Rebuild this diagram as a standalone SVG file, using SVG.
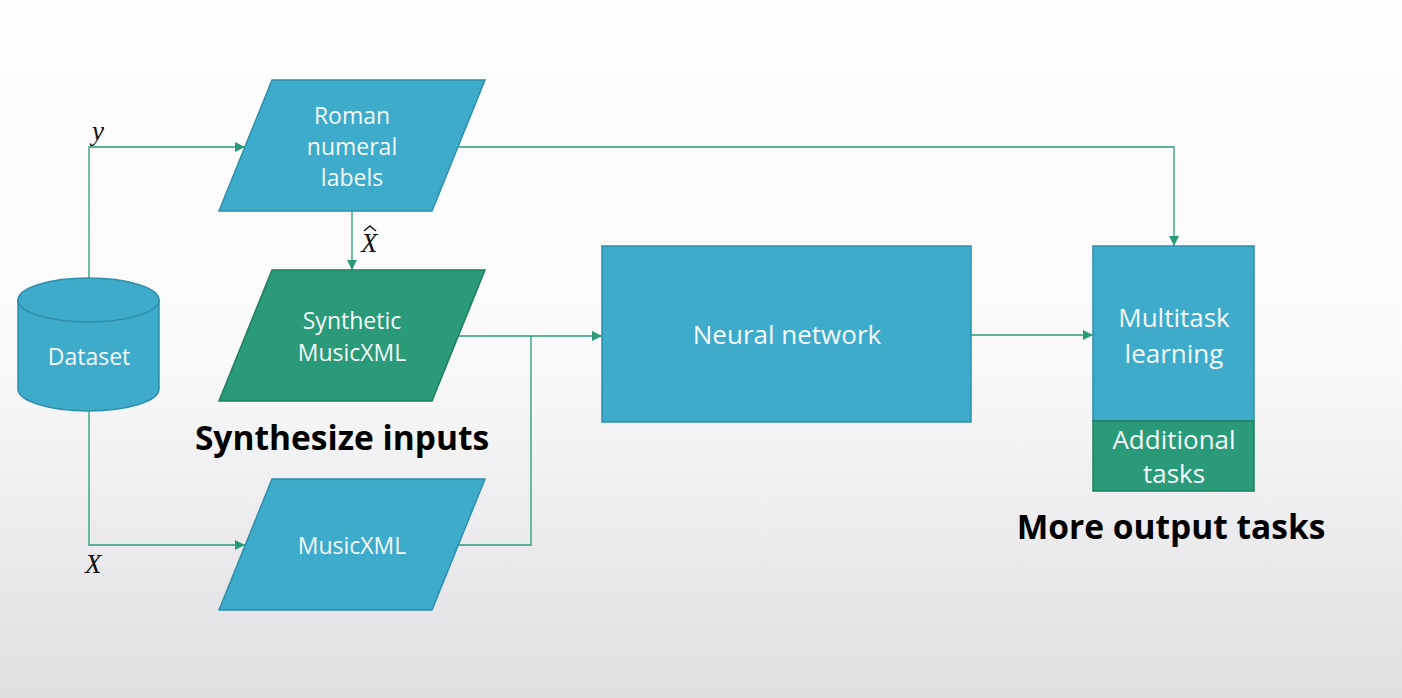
<svg xmlns="http://www.w3.org/2000/svg" width="1402" height="698" viewBox="0 0 1402 698">
<defs>
<linearGradient id="bg" x1="0" y1="0" x2="0" y2="1">
<stop offset="0" stop-color="#fdfdfe"/>
<stop offset="0.5" stop-color="#fafafb"/>
<stop offset="1" stop-color="#dfdee1"/>
</linearGradient>
<marker id="arr" viewBox="0 0 10 10" refX="10" refY="5" markerWidth="10" markerHeight="10" markerUnits="userSpaceOnUse" orient="auto">
<path d="M0,0 L10,5 L0,10 Z" fill="#2a9a78"/>
</marker>
<style>
.blue{fill:#3eabcb;stroke:#2d8fab;stroke-width:1.5}
.green{fill:#2a9a78;stroke:#1f7e60;stroke-width:1.5}
.lbl{font-family:"Open Sans","Noto Sans",sans-serif;fill:#f4f8fa;font-size:23px;text-anchor:middle}
.lg{font-size:26px}
.big{font-family:"Open Sans","Noto Sans",sans-serif;fill:#000;font-size:33.5px;font-weight:bold;text-anchor:middle}
.math{font-family:"Liberation Serif","DejaVu Serif",serif;font-style:italic;font-size:27px;fill:#111}
.con{fill:none;stroke:#2a9a78;stroke-width:1.3}
</style>
</defs>
<rect width="1402" height="698" fill="url(#bg)"/>
<g id="connectors">
<polyline class="con" points="89,278 89,147 245,147" marker-end="url(#arr)"/>
<polyline class="con" points="89,411 89,545 245,545" marker-end="url(#arr)"/>
<polyline class="con" points="352,211 352,270" marker-end="url(#arr)"/>
<polyline class="con" points="458,147 1174,147 1174,246" marker-end="url(#arr)"/>
<polyline class="con" points="458,336 531,336 602,336" marker-end="url(#arr)"/>
<polyline class="con" points="458,545 531,545 531,336"/>
<polyline class="con" points="971,335 1093,335" marker-end="url(#arr)"/>
</g>
<g id="labels">
<text class="math" x="92" y="140">y</text>
<text class="math" x="85" y="573">X</text>
<text class="math" x="361" y="252">X</text>
<path d="M364,231 L370,226 L376,231" fill="none" stroke="#111" stroke-width="1.4"/>
</g>
<g id="dataset">
<path class="blue" d="M18,300 L18,389 A70.5,22 0 0 0 159,389 L159,300"/>
<ellipse class="blue" cx="88.5" cy="300" rx="70.5" ry="22"/>
<text class="lbl" x="89" y="365">Dataset</text>
</g>
<g id="roman">
<polygon class="blue" points="272,80 485,80 432,211 219,211"/>
<text class="lbl" x="352" y="124">Roman</text>
<text class="lbl" x="352" y="155">numeral</text>
<text class="lbl" x="352" y="186">labels</text>
</g>
<g id="synthetic">
<polygon class="green" points="272,270 485,270 432,401 219,401"/>
<text class="lbl" x="352" y="329">Synthetic</text>
<text class="lbl" x="352" y="361">MusicXML</text>
</g>
<g id="synth-caption">
<text class="big" x="342" y="450">Synthesize inputs</text>
</g>
<g id="musicxml">
<polygon class="blue" points="272,479 485,479 432,610 219,610"/>
<text class="lbl" x="352" y="554">MusicXML</text>
</g>
<g id="neural">
<rect class="blue" x="602" y="246" width="369" height="176"/>
<text class="lbl lg" x="787" y="344">Neural network</text>
</g>
<g id="multitask">
<rect class="blue" x="1093" y="246" width="161" height="175"/>
<text class="lbl lg" x="1174" y="327">Multitask</text>
<text class="lbl lg" x="1174" y="363">learning</text>
</g>
<g id="additional">
<rect class="green" x="1093" y="421" width="161" height="70"/>
<text class="lbl lg" x="1174" y="449">Additional</text>
<text class="lbl lg" x="1174" y="483">tasks</text>
</g>
<g id="output-caption">
<text class="big" x="1171" y="539">More output tasks</text>
</g>
</svg>
